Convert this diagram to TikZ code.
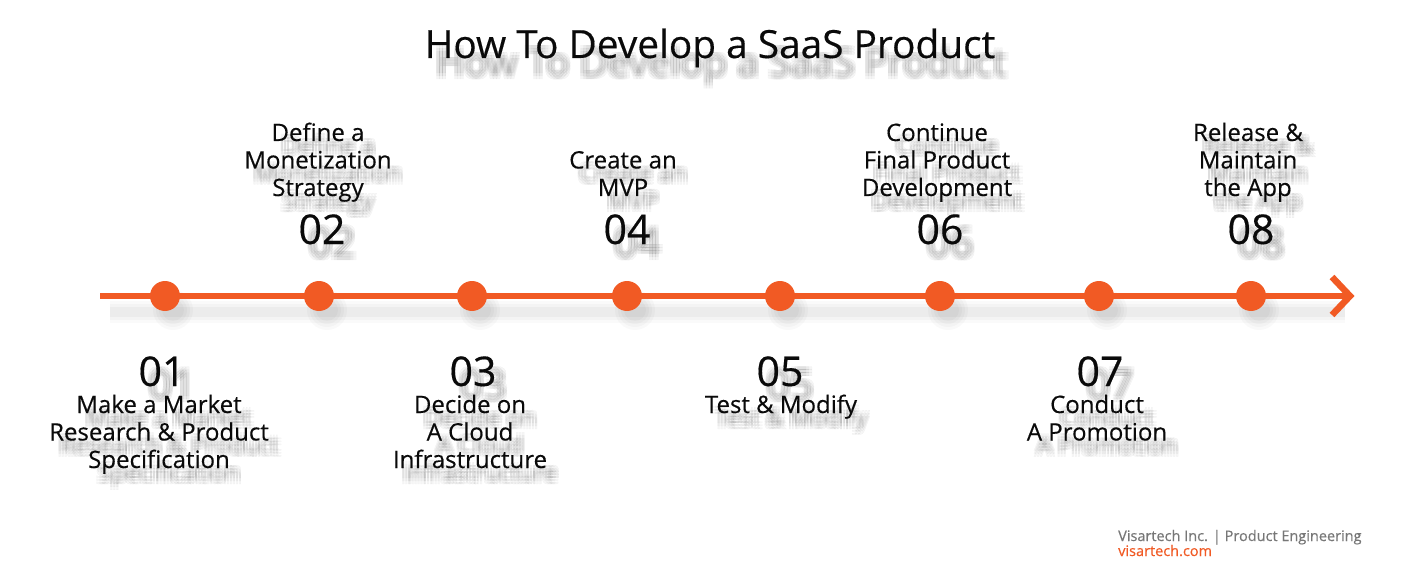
\documentclass[tikz,border=0pt]{standalone}
\usepackage{fontspec}
\setmainfont{Open Sans}[FakeBold=0.35]
\usetikzlibrary{calc}
\definecolor{vorange}{HTML}{F15A24}
\definecolor{vtext}{HTML}{0A0A0A}
\definecolor{vgray}{HTML}{777777}
\tikzset{
  lbl/.style={align=center, font=\fontsize{24}{27.5}\selectfont, text=vtext, inner sep=0pt, anchor=base},
  num/.style={font=\fontsize{41}{44}\selectfont, text=vtext, inner sep=0pt, anchor=base},
  ttl/.style={font=\fontsize{38.8}{42}\selectfont, text=vtext, inner sep=0pt, anchor=base},
  foot/.style={font=\fontsize{14.5}{16}\selectfont, inner sep=0pt, anchor=base west},
  shd/.style={text=black, text opacity=0.04},
  dot/.style={circle, fill=vorange, minimum size=30pt, inner sep=0pt},
  dotshd/.style={circle, fill=black, fill opacity=0.025, inner sep=0pt},
}
% #5/#6: shadow offset
\newcommand{\shtext}[6]{%
  \foreach \dx in {-3,0,3}{\foreach \dy in {-3,0,3}{%
    \node[#2, shd] at ($(#3)+(#5+\dx,#6+\dy)$) {#4};}}%
  \node[#2] (#1) at (#3) {#4};}
\begin{document}
\begin{tikzpicture}[x=1pt,y=-1pt]
\useasboundingbox[fill=white] (0,0) rectangle (1422,580);
% title
\shtext{title}{ttl}{710,58}{How To Develop a SaaS Product}{11}{18}
% line shadow
\foreach \w/\o in {22/0.02,16/0.025,10/0.03}{
  \draw[line width=\w pt, black, opacity=\o] (110,312) -- (1345,312);}
\foreach \x [count=\i] in {165,319,472,627,780,940,1099,1251}{
  \foreach \r in {40,34,28,22}{\node[dotshd, minimum size=\r pt] (ds\i\r) at (\x+8,310) {};}
}
% timeline
\coordinate (ls) at (100,296);
\coordinate (le) at (1350,296);
\coordinate (ha) at (1332,277);
\coordinate (hb) at (1332,315);
\draw[vorange, line width=6.5pt] (ls) -- (le);
\draw[vorange, line width=6.5pt, line join=miter] (ha) -- (le) -- (hb);
\foreach \x [count=\i] in {165,319,472,627,780,940,1099,1251}{
  \node[dot] (d\i) at (\x,296) {};}
% top labels
\shtext{t2}{lbl}{318,196}{Define a\\Monetization\\Strategy}{10}{13}
\shtext{n2}{num}{322,244}{02}{10}{13}
\shtext{t4}{lbl}{623,196}{Create an\\MVP}{10}{13}
\shtext{n4}{num}{627,244}{04}{10}{13}
\shtext{t6}{lbl}{937,196}{Continue\\Final Product\\Development}{10}{13}
\shtext{n6}{num}{940,244}{06}{10}{13}
\shtext{t8}{lbl}{1248,196}{Release \&\\Maintain\\the App}{10}{13}
\shtext{n8}{num}{1251,244}{08}{10}{13}
% bottom labels
\shtext{n1}{num}{162,386}{01}{10}{13}
\shtext{t1}{lbl}{159,468}{Make a Market\\Research \& Product\\Specification}{10}{13}
\shtext{n3}{num}{473,386}{03}{10}{13}
\shtext{t3}{lbl}{470,468}{Decide on\\A Cloud\\Infrastructure}{10}{13}
\shtext{n5}{num}{780,386}{05}{10}{13}
\shtext{t5}{lbl}{781,413}{Test \& Modify}{10}{13}
\shtext{n7}{num}{1100,386}{07}{10}{13}
\shtext{t7}{lbl}{1097,440.5}{Conduct\\A Promotion}{10}{13}
% footer
\node[foot, text=vgray] (f1) at (1118,541) {Visartech Inc. | Product Engineering};
\node[foot, text=vorange] (f2) at (1118,556) {visartech.com};
\end{tikzpicture}
\end{document}
